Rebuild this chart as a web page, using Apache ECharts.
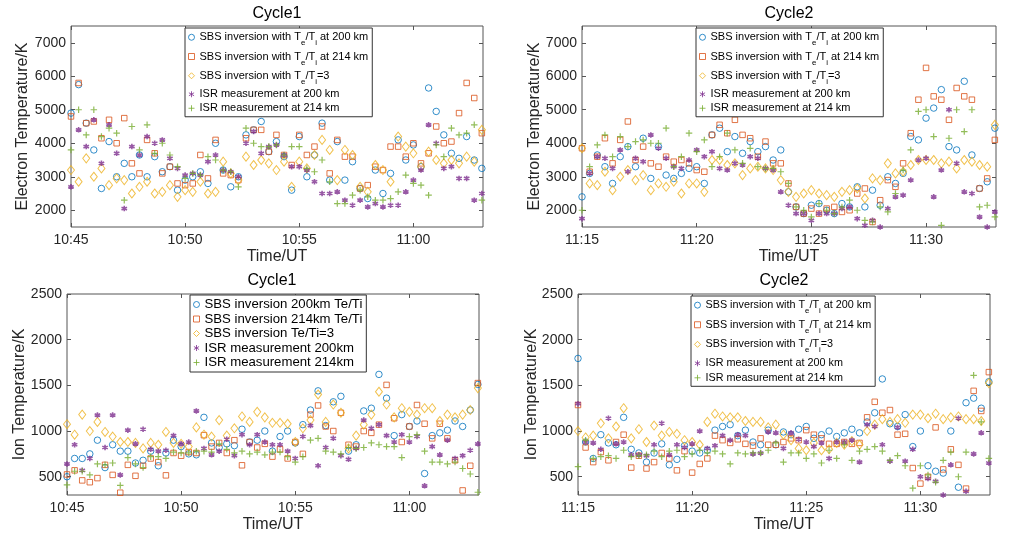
<!DOCTYPE html>
<html>
<head>
<meta charset="utf-8">
<title>SBS vs ISR temperatures</title>
<script src="https://cdn.jsdelivr.net/npm/echarts@6/dist/echarts.min.js"></script>
<style>
  html, body { margin: 0; padding: 0; background: #fff; }
  #main { width: 1010px; height: 536px; }
</style>
</head>
<body>
<div id="main"></div>
<script>
// sample times, seconds after the start of each cycle
var secs = [0,20,40,60,80,100,120,140,160,180,200,220,240,260,280,300,320,340,360,380,
  400,420,440,460,480,500,520,540,560,580,600,620,640,660,680,700,720,740,760,780,
  800,820,840,860,880,900,920,940,960,980,1000,1020,1040,1060,1080];
var cycle1Start = 645;   // 10:45, minutes of day
var cycle2Start = 675;   // 11:15
var timeTicks1 = [645, 650, 655, 660];
var timeTicks2 = [675, 680, 685, 690];
var teTicks = [2000, 3000, 4000, 5000, 6000, 7000];
var tiTicks = [500, 1000, 1500, 2000, 2500];

var namesA = ['SBS inversion with Te/Ti at 200 km', 'SBS inversion with Te/Ti at 214 km',
  'SBS inversion with Te/Ti=3', 'ISR measurement at 200 km', 'ISR measurement at 214 km'];
var namesB = ['SBS inversion 200km Te/Ti', 'SBS inversion 214km Te/Ti',
  'SBS inversion Te/Ti=3', 'ISR measurement 200km', 'ISR measurement 214km'];

// electron temperature, cycle 1
var te1Sbs200 = [4900,5750,4600,3800,2650,4050,3000,3400,3000,3650,3000,3600,3150,3300,2600,2900,3000,3150,2800,4000,
  3200,2700,3000,4250,4400,4650,3750,4050,3600,2600,4200,3000,3650,4600,2900,4050,2900,3450,2650,2350,
  3200,2500,3100,4100,3500,3950,3300,5650,4950,4250,3700,3550,4200,3500,3250];
var te1Sbs214 = [4800,5800,4600,4650,4150,4700,4000,4750,3400,3100,4100,3700,3100,3300,2800,2750,2800,3650,2950,4100,
  3100,3050,2900,4150,4400,4400,3750,4250,3650,3350,4250,3650,3900,4500,3100,4100,3600,3600,2650,2750,
  3300,3200,3900,3900,3600,4000,3400,3700,4500,4000,4050,4900,5800,5350,4300];
var te1Ratio3 = [3200,2850,3550,3000,3250,2750,2950,2900,2500,2700,2850,2500,2550,2750,2400,2600,2550,2850,2500,2550,
  3450,3100,2900,3600,3350,3500,3400,3200,3450,2700,3450,3250,3650,4100,3800,2900,3800,3650,2700,2550,
  3350,3200,2850,4200,3900,3700,3300,3750,3500,3400,3500,3400,3600,3450,4400];
var te1Isr200 = [2700,4400,3900,4700,3400,4550,3700,2050,3900,3650,4200,4000,4100,3550,3250,3050,3100,3050,3450,3650,
  3200,3150,3000,4000,4350,3700,3900,3950,3650,3300,3300,3200,2850,2500,2500,2550,2300,2150,2300,2100,
  2200,2100,2150,2150,2550,2900,3200,4550,4000,3250,3300,2950,2950,2300,2500];
var te1Isr214 = [3800,5000,4250,5000,4200,4450,4300,2300,4500,3800,4550,3700,4000,3650,3300,2950,3100,3050,3600,3500,
  3200,3150,2700,4450,4000,3900,3900,3950,3650,3900,3900,3250,3150,3500,2850,2200,2200,2450,2600,2400,
  2300,2300,2350,2550,3050,2800,2750,2450,3950,3600,4450,4250,4300,4550,2300];

// electron temperature, cycle 2
var te2Sbs200 = [2400,3100,3650,3300,2800,3600,3900,3300,4150,2950,3900,3050,2950,3100,3250,3300,2800,4250,4450,3750,
  4200,3700,4050,3750,3900,3500,3800,2550,2100,1900,2150,2200,2000,1900,2200,2100,2700,2100,2600,2150,
  3000,2800,3100,4200,4100,4750,5050,5600,3900,3800,5850,3650,2650,2850,4450];
var te2Sbs214 = [3850,3150,3600,4150,3400,4100,4650,3500,3900,3400,3300,3600,3450,3500,3400,3200,3150,4250,4550,4300,
  4700,4250,4150,3600,4050,3400,3400,2800,2100,1900,2050,1900,2050,2100,1950,2000,2500,2650,1650,2300,
  2900,2700,3400,4300,5300,6250,5400,5300,4700,5650,5400,5300,2650,2950,4100];
var te2Ratio3 = [3850,2800,2750,3150,2600,3000,3200,2900,3050,2600,2800,2700,2850,2500,2800,2800,2550,3500,3500,3350,
  3400,3050,3250,3300,3250,3200,2900,2550,2400,2500,2600,2500,2450,2400,2550,2600,2650,2350,2950,2900,
  3400,3100,3150,3350,3500,3500,3500,3400,3450,3250,3500,3450,3350,3300,4550];
var te2Isr200 = [1750,3100,3600,3550,3250,3800,3150,3550,3450,4250,3850,3550,3300,3250,3500,3800,3600,3750,3250,3200,
  3400,3350,3600,3550,3250,3200,2550,2150,1900,1900,1700,1900,1900,1900,2050,2100,1750,1550,1700,1500,
  2050,2400,2450,2900,3500,3550,2400,3200,5000,3400,2550,2500,1800,1500,1950];
var te2Isr214 = [2000,3300,3950,4250,3600,4200,3900,4050,4100,4000,4000,4450,3300,3600,4300,3750,4100,3300,3600,4300,
  3800,3400,3850,3300,3250,3250,3150,2800,2100,2000,1800,2200,2000,1900,2100,2300,2000,1700,1650,2100,
  1950,2500,3200,3800,4950,5000,4200,1550,4150,5000,4350,5000,2100,2150,1800];

// ion temperature, cycle 1
var ti1Sbs200 = [500,700,700,750,900,600,850,780,780,650,680,780,620,760,900,830,750,740,1150,870,
  820,860,840,1020,880,900,1000,780,940,1000,870,1070,1230,1440,1060,1320,1380,780,850,1220,
  1250,1620,1360,950,1180,1050,1110,535,950,980,1010,1110,1050,1230,1510];
var ti1Sbs214 = [525,570,460,440,485,630,520,325,630,510,620,700,660,515,760,730,770,760,955,830,
  870,760,900,625,880,820,860,720,800,700,880,750,1180,1280,1050,1000,1200,850,830,1000,
  980,1070,1505,1140,880,1050,1285,1080,920,1080,920,680,350,620,1525];
var ti1Ratio3 = [1075,960,1180,1000,1100,990,940,880,880,870,810,870,850,990,870,860,830,1040,960,940,
  1120,950,1030,1160,1100,1210,1150,1090,1090,1080,880,1030,1120,1400,1100,1290,1200,810,950,1070,
  1180,1430,1290,1150,1250,1210,1180,1250,1250,1110,1180,1150,1180,1230,1470];
var ti1Isr200 = [640,850,570,700,1175,820,1175,520,1010,860,1020,800,780,790,950,860,880,1220,810,740,
  780,910,730,960,850,960,880,850,850,780,700,940,1060,620,820,920,730,690,810,1120,
  1030,1070,950,880,960,880,940,400,830,740,900,700,730,790,860];
var ti1Isr214 = [410,560,560,520,640,630,650,405,710,640,600,720,720,700,770,760,760,780,780,770,
  860,800,760,780,750,770,740,770,770,720,660,720,900,920,780,770,750,820,810,820,
  870,850,830,830,710,940,960,780,660,660,640,660,590,530,330];

// ion temperature, cycle 2
var ti2Sbs200 = [1795,880,700,960,870,850,1150,800,760,660,760,860,630,690,840,780,760,790,1010,1050,
  1070,950,1010,880,850,1010,850,990,960,1020,1050,920,960,1000,940,980,1020,980,1100,1200,
  1570,1080,1050,1180,830,1000,620,560,540,1000,385,1310,1360,1250,1540];
var ti2Sbs214 = [1285,820,660,770,680,880,960,600,730,590,660,760,700,570,780,545,640,700,950,900,
  870,910,860,840,920,850,850,880,920,900,1010,960,920,860,860,880,860,870,1150,1320,
  1200,1230,960,970,595,425,500,1040,580,800,630,370,1440,1220,1645];
var ti2Ratio3 = [1000,930,950,1085,920,1050,1250,920,1020,880,1060,950,990,970,900,880,850,1100,1190,1160,
  1150,1150,1110,1100,1100,1040,1070,960,900,810,790,870,790,800,870,850,890,850,1000,1070,
  1130,1100,1130,1090,1180,1180,1140,1190,1130,1150,1160,1130,1130,1110,1525];
var ti2Isr200 = [1300,880,870,800,1140,860,880,740,740,730,850,1085,740,850,820,860,1000,810,840,950,
  900,960,950,750,760,990,980,810,980,910,880,830,870,700,880,880,900,660,1070,1050,
  850,670,1040,670,800,500,480,450,300,630,1140,340,750,980,650];
var ti2Isr214 = [610,900,700,720,730,700,790,720,730,740,780,720,780,790,720,750,790,760,780,750,
  640,760,750,760,760,790,870,660,760,760,700,750,650,790,700,850,680,780,800,830,
  780,680,730,620,375,620,520,440,680,770,500,770,1610,1100,700];

var FONT = '"Liberation Sans", Arial, Helvetica, sans-serif';
var TXT = '#262626';
var AX = '#555555';
var ASTER = 'path://M5,0L5,10M0.7,2.5L9.3,7.5M0.7,7.5L9.3,2.5';
var PLUS = 'path://M5,0L5,10M0,5L10,5';

// MATLAB-like marker per series slot
var marks = [
  { symbol: 'circle', size: 6.5, color: '#0072BD', width: 1 },
  { symbol: 'rect', size: 5.5, color: '#D95319', width: 1 },
  { symbol: 'diamond', size: [7, 9], color: '#EDB120', width: 1 },
  { symbol: ASTER, size: 5.5, color: '#7E2F8E', width: 1.6 },
  { symbol: PLUS, size: 6.5, color: '#77AC30', width: 1.2 }
];

var grids = [
  { left: 71, top: 26, width: 412, height: 201 },
  { left: 582, top: 26, width: 414, height: 201 },
  { left: 67, top: 294, width: 412, height: 201 },
  { left: 578, top: 294, width: 412, height: 201 }
];
grids.forEach(function (g) {
  g.show = true; g.borderColor = AX; g.borderWidth = 1; g.outerBoundsMode = 'none';
});

function hhmm(v) {
  var m = Math.round(v);
  var mm = m % 60;
  return Math.floor(m / 60) + ':' + (mm < 10 ? '0' : '') + mm;
}
function plain(v) { return String(v); }

function xAx(g, min, ticks, top) {
  return {
    type: 'value', gridIndex: g, min: min, max: min + 18.05, position: top ? 'top' : 'bottom',
    name: top ? '' : 'Time/UT', nameLocation: 'middle', nameGap: 22, nameMoveOverlap: false,
    nameTextStyle: { fontSize: 16, color: TXT, fontFamily: FONT },
    axisLine: { show: false, onZero: false },
    axisTick: { inside: true, length: 4, customValues: ticks, lineStyle: { color: AX } },
    axisLabel: { show: !top, customValues: ticks, formatter: hhmm, margin: 6,
      fontSize: 14, color: TXT, fontFamily: FONT },
    splitLine: { show: false }
  };
}

function yAx(g, min, max, ticks, name, gap, right) {
  return {
    type: 'value', gridIndex: g, min: min, max: max, position: right ? 'right' : 'left',
    name: right ? '' : name, nameLocation: 'middle', nameGap: gap, nameMoveOverlap: false,
    nameTextStyle: { fontSize: 16, color: TXT, fontFamily: FONT },
    axisLine: { show: false, onZero: false },
    axisTick: { inside: true, length: 4, customValues: ticks, lineStyle: { color: AX } },
    axisLabel: { show: !right, customValues: ticks, formatter: plain, margin: 5,
      fontSize: 14, color: TXT, fontFamily: FONT },
    splitLine: { show: false }
  };
}

var xAxes = [], yAxes = [];
[[cycle1Start, timeTicks1], [cycle2Start, timeTicks2], [cycle1Start, timeTicks1], [cycle2Start, timeTicks2]]
  .forEach(function (c, g) {
    xAxes.push(xAx(g, c[0], c[1], false));
    xAxes.push(xAx(g, c[0], c[1], true));
  });
yAxes.push(yAx(0, 1500, 7500, teTicks, 'Electron Temperature/K', 40, false));
yAxes.push(yAx(0, 1500, 7500, teTicks, '', 0, true));
yAxes.push(yAx(1, 1500, 7500, teTicks, 'Electron Temperature/K', 39, false));
yAxes.push(yAx(1, 1500, 7500, teTicks, '', 0, true));
yAxes.push(yAx(2, 300, 2500, tiTicks, 'Ion Temperature/K', 39, false));
yAxes.push(yAx(2, 300, 2500, tiTicks, '', 0, true));
yAxes.push(yAx(3, 300, 2500, tiTicks, 'Ion Temperature/K', 38, false));
yAxes.push(yAx(3, 300, 2500, tiTicks, '', 0, true));

function scatter(g, name, k, start, vals) {
  var mk = marks[k];
  return {
    type: 'scatter', name: name, xAxisIndex: 2 * g, yAxisIndex: 2 * g,
    symbol: mk.symbol, symbolSize: mk.size,
    itemStyle: { color: 'rgba(0,0,0,0)', borderColor: mk.color, borderWidth: mk.width },
    emphasis: { disabled: true },
    data: secs.map(function (s, i) { return [start + s / 60, vals[i]]; })
  };
}

var panels = [
  [0, namesA, cycle1Start, [te1Sbs200, te1Sbs214, te1Ratio3, te1Isr200, te1Isr214]],
  [1, namesA, cycle2Start, [te2Sbs200, te2Sbs214, te2Ratio3, te2Isr200, te2Isr214]],
  [2, namesB, cycle1Start, [ti1Sbs200, ti1Sbs214, ti1Ratio3, ti1Isr200, ti1Isr214]],
  [3, namesA, cycle2Start, [ti2Sbs200, ti2Sbs214, ti2Ratio3, ti2Isr200, ti2Isr214]]
];
var series = [];
panels.forEach(function (p) {
  p[3].forEach(function (vals, k) {
    series.push(scatter(p[0], p[1][k], k, p[2], vals));
  });
});

// Te/Ti written with subscripts, as in the figure
function subText(name) {
  var parts = name.split('Te/Ti');
  if (parts.length < 2) return '{n|' + name + '}';
  return '{n|' + parts[0] + 'T}{s|e}{n|/T}{s|i}' + (parts[1] ? '{n|' + parts[1] + '}' : '');
}

function legendBox(left, top, names, fs, sub, gap, icon) {
  return {
    orient: 'vertical', left: left, top: top, data: names,
    padding: [3, 4, 3, 3], itemGap: gap, itemWidth: icon, itemHeight: icon,
    backgroundColor: '#fff', borderColor: '#333', borderWidth: 1, borderRadius: 0,
    itemStyle: { borderWidth: 1 },
    selectedMode: false,
    formatter: sub ? subText : function (n) { return '{n|' + n + '}'; },
    textStyle: {
      fontSize: fs, color: '#000', fontFamily: FONT,
      rich: {
        n: { fontSize: fs, fontFamily: FONT, color: '#000', lineHeight: fs + 1.5, verticalAlign: 'middle' },
        s: { fontSize: fs * 0.72, fontFamily: FONT, color: '#000', lineHeight: fs * 0.72,
          padding: [fs * 0.75, 0, 0, 0], verticalAlign: 'top' }
      }
    }
  };
}

var chart = echarts.init(document.getElementById('main'), null, { renderer: 'canvas' });
chart.setOption({
  backgroundColor: '#fff',
  animation: false,
  title: [
    { text: 'Cycle1', left: 277, top: 6, textAlign: 'center', padding: 0,
      textStyle: { fontSize: 16, fontWeight: 'normal', color: '#000', fontFamily: FONT } },
    { text: 'Cycle2', left: 789, top: 6, textAlign: 'center', padding: 0,
      textStyle: { fontSize: 16, fontWeight: 'normal', color: '#000', fontFamily: FONT } },
    { text: 'Cycle1', left: 272, top: 273, textAlign: 'center', padding: 0,
      textStyle: { fontSize: 16, fontWeight: 'normal', color: '#000', fontFamily: FONT } },
    { text: 'Cycle2', left: 784, top: 273, textAlign: 'center', padding: 0,
      textStyle: { fontSize: 16, fontWeight: 'normal', color: '#000', fontFamily: FONT } }
  ],
  legend: [
    legendBox(185, 28, namesA, 11, true, 3, 6),
    legendBox(696, 28, namesA, 11, true, 3, 6),
    legendBox(190, 295, namesB, 13.2, false, 1.5, 6),
    legendBox(691, 296, namesA, 10.8, true, 3.5, 6)
  ],
  grid: grids,
  xAxis: xAxes,
  yAxis: yAxes,
  series: series
});
</script>
</body>
</html>
